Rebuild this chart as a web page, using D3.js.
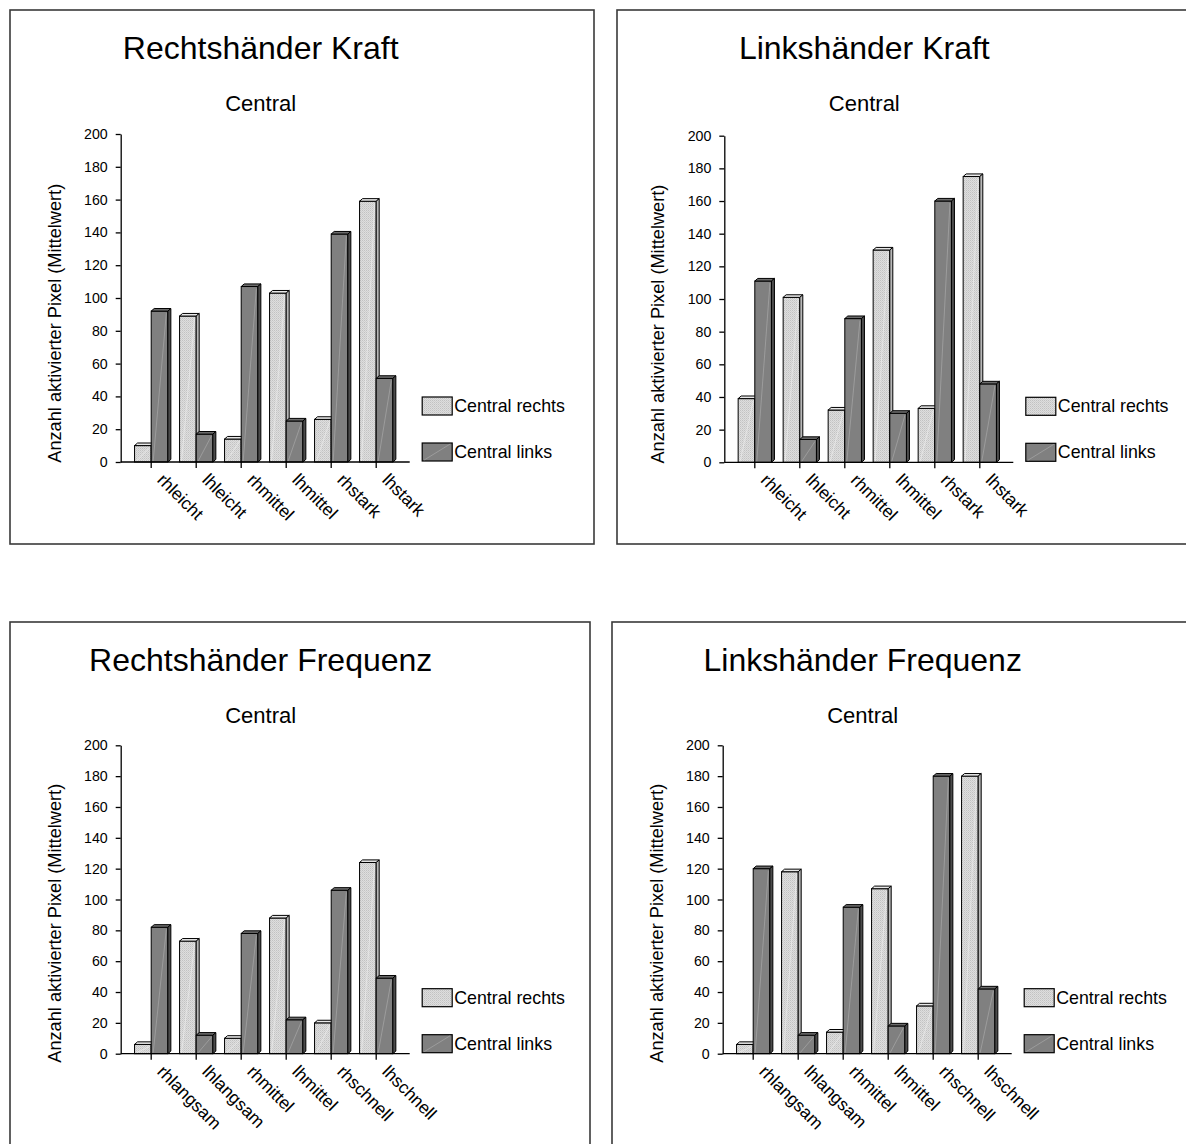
<!DOCTYPE html>
<html>
<head>
<meta charset="utf-8">
<script src="https://cdn.jsdelivr.net/npm/d3@7"></script>
<style>
  body { margin: 0; background: #fff; }
  text { font-family: Arial, "Liberation Sans", sans-serif; fill: #000; }
</style>
</head>
<body>
<svg id="chart" width="1186" height="1144"></svg>
<script>
// data
const kraftCats = ['rhleicht', 'lhleicht', 'rhmittel', 'lhmittel', 'rhstark', 'lhstark'];
const freqCats = ['rhlangsam', 'lhlangsam', 'rhmittel', 'lhmittel', 'rhschnell', 'lhschnell'];
const seriesNames = ['Central rechts', 'Central links'];
const panelTitles = ['Rechtshänder Kraft', 'Linkshänder Kraft', 'Rechtshänder Frequenz', 'Linkshänder Frequenz'];
const subTitle = 'Central';
const yLabel = 'Anzahl aktivierter Pixel (Mittelwert)';
const yTicks = [0, 20, 40, 60, 80, 100, 120, 140, 160, 180, 200];

const rhKraftRechts = [10, 89, 14, 103, 26, 159];
const rhKraftLinks  = [92, 17, 107, 25, 139, 51];
const lhKraftRechts = [39, 101, 32, 130, 33, 175];
const lhKraftLinks  = [111, 14, 88, 30, 160, 48];
const rhFreqRechts  = [6, 73, 10, 88, 20, 124];
const rhFreqLinks   = [82, 12, 78, 22, 106, 49];
const lhFreqRechts  = [6, 118, 14, 107, 31, 180];
const lhFreqLinks   = [120, 12, 95, 18, 180, 42];

const depthX = 3, depthY = 2.6;
const fills = ['url(#lightPat)', '#808080'];
const topFills = ['#e8e8e8', '#6c6c6c'];
const sideFills = ['#b8b8b8', '#4c4c4c'];

const svg = d3.select('#chart');
svg.append('rect').attr('width', 1186).attr('height', 1144).attr('fill', '#fff');

let pat = svg.append('defs').append('pattern')
    .attr('id', 'lightPat')
    .attr('width', 2).attr('height', 2)
    .attr('patternUnits', 'userSpaceOnUse');
pat.append('rect').attr('width', 2).attr('height', 2).attr('fill', '#dedede');
pat.append('rect').attr('width', 1).attr('height', 1).attr('fill', '#c2c2c2');
pat.append('rect').attr('x', 1).attr('y', 1).attr('width', 1).attr('height', 1).attr('fill', '#cfcfcf');

function drawBar(g, x, w, yTop, yBase, s) {
    g.append('rect')
        .attr('x', x).attr('y', yTop)
        .attr('width', w).attr('height', yBase - yTop)
        .attr('fill', fills[s])
        .attr('stroke', '#000').attr('stroke-width', 1);
    if (yBase - yTop > 4) {
        g.append('line')
            .attr('x1', x + 2).attr('y1', yBase - 1)
            .attr('x2', x + w - 1.5).attr('y2', yTop + 2)
            .attr('stroke', s ? '#a8a8a8' : '#ececec')
            .attr('stroke-width', 0.7);
    }
    g.append('path')
        .attr('d', `M${x},${yTop}L${x + depthX},${yTop - depthY}L${x + w + depthX},${yTop - depthY}L${x + w},${yTop}Z`)
        .attr('fill', topFills[s]).attr('stroke', '#000').attr('stroke-width', 1);
    g.append('path')
        .attr('d', `M${x + w},${yTop}L${x + w + depthX},${yTop - depthY}L${x + w + depthX},${yBase - depthY}L${x + w},${yBase}Z`)
        .attr('fill', sideFills[s]).attr('stroke', '#000').attr('stroke-width', 1);
}

function drawPanel(frame, title, cats, rechts, links) {
    let g = svg.append('g');
    g.append('rect')
        .attr('x', frame.x).attr('y', frame.y)
        .attr('width', frame.w).attr('height', frame.h)
        .attr('fill', 'none').attr('stroke', '#3a3a3a').attr('stroke-width', 1.6);

    const ax = frame.ax;
    let y = d3.scaleLinear().domain([0, 200]).range([frame.y0, frame.yTop]);
    let x0 = d3.scaleBand().domain(cats)
        .range([ax + 8, ax + 278])
        .paddingInner(0.26).paddingOuter(0.13);
    let x1 = d3.scaleBand().domain([0, 1]).range([0, x0.bandwidth()]);

    g.append('text')
        .attr('x', ax + 140).attr('y', frame.y + 49)
        .attr('text-anchor', 'middle')
        .style('font-size', '32px')
        .text(title);
    g.append('text')
        .attr('x', ax + 140).attr('y', frame.y + 101)
        .attr('text-anchor', 'middle')
        .style('font-size', '22px')
        .text(subTitle);

    // y axis
    let yAxis = g.append('g')
        .attr('transform', `translate(${ax},0)`)
        .call(d3.axisLeft(y).tickValues(yTicks).tickSize(5).tickSizeOuter(0).tickPadding(8));
    yAxis.selectAll('path, line').attr('stroke', '#000').attr('stroke-width', 1.3);
    yAxis.selectAll('text')
        .style('font-size', '14.2px')
        .style('font-family', 'Arial, "Liberation Sans", sans-serif');

    let h = frame.y0 - frame.yTop;
    g.append('text')
        .attr('transform', `translate(${ax - 60},${frame.y0 - 0.423 * h}) rotate(-90)`)
        .attr('text-anchor', 'middle')
        .style('font-size', '18.2px')
        .text(yLabel);

    // bars
    cats.forEach((c, i) => {
        let bx = x0(c);
        drawBar(g, bx + x1(0), x1.bandwidth(), y(rechts[i]), y(0), 0);
        drawBar(g, bx + x1(1), x1.bandwidth(), y(links[i]), y(0), 1);
    });

    // x axis
    let xAxis = g.append('g')
        .attr('transform', `translate(0,${frame.y0})`)
        .call(d3.axisBottom(x0).tickSize(6).tickSizeOuter(0));
    xAxis.select('.domain').remove();
    xAxis.selectAll('line').attr('stroke', '#000').attr('stroke-width', 1.3);
    xAxis.selectAll('text')
        .attr('y', 0).attr('dy', 0)
        .attr('transform', 'translate(5,19) rotate(45)')
        .style('text-anchor', 'start')
        .style('font-size', '17.5px')
        .style('font-family', 'Arial, "Liberation Sans", sans-serif');
    g.append('line')
        .attr('x1', ax).attr('x2', ax + 289)
        .attr('y1', frame.y0).attr('y2', frame.y0)
        .attr('stroke', '#000').attr('stroke-width', 1.3);

    // legend
    let lx = ax + 301.5;
    let lys = [frame.y0 - 65, frame.y0 - 19];
    seriesNames.forEach((name, s) => {
        g.append('rect')
            .attr('x', lx).attr('y', lys[s])
            .attr('width', 30).attr('height', 18)
            .attr('fill', fills[s])
            .attr('stroke', '#000').attr('stroke-width', 1.2);
        if (s == 1) {
            g.append('line')
                .attr('x1', lx + 2).attr('y1', lys[s] + 17)
                .attr('x2', lx + 28).attr('y2', lys[s] + 1)
                .attr('stroke', '#a8a8a8').attr('stroke-width', 0.7);
        }
        g.append('text')
            .attr('x', lx + 32).attr('y', lys[s] + 15)
            .style('font-size', '17.8px')
            .text(name);
    });
}

const frames = [
    {x: 10, y: 10, w: 584, h: 534, ax: 120.7, y0: 462, yTop: 134},
    {x: 617, y: 10, w: 600, h: 534, ax: 724.3, y0: 462.3, yTop: 135.7},
    {x: 10, y: 622, w: 580, h: 560, ax: 120.7, y0: 1053.7, yTop: 745.3},
    {x: 612, y: 622, w: 600, h: 560, ax: 722.7, y0: 1053.7, yTop: 745.3}
];

drawPanel(frames[0], panelTitles[0], kraftCats, rhKraftRechts, rhKraftLinks);
drawPanel(frames[1], panelTitles[1], kraftCats, lhKraftRechts, lhKraftLinks);
drawPanel(frames[2], panelTitles[2], freqCats, rhFreqRechts, rhFreqLinks);
drawPanel(frames[3], panelTitles[3], freqCats, lhFreqRechts, lhFreqLinks);
</script>
</body>
</html>
